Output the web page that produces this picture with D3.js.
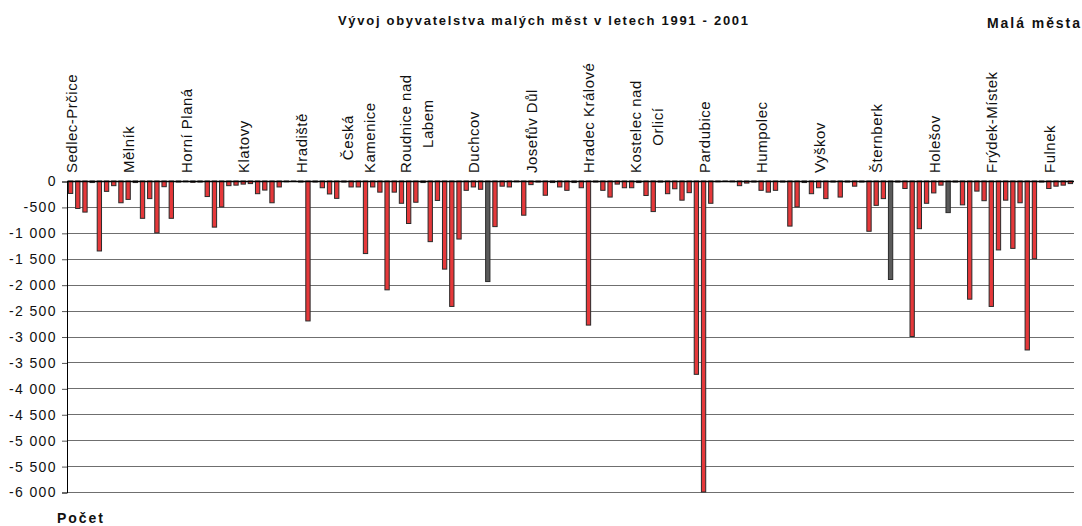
<!DOCTYPE html>
<html>
<head>
<meta charset="utf-8">
<script src="https://cdn.jsdelivr.net/npm/d3@7"></script>
<style>
    body { margin: 0; background: #fff; }
    text { font-family: "Liberation Sans", Arial, sans-serif; fill: #111; }
</style>
</head>
<body>
<div id="chart"></div>
<script>
const WIDTH = 1082;
const HEIGHT = 526;
const PLOT_LEFT = 67;
const PLOT_RIGHT = 1074;
const PLOT_TOP = 181;
const PLOT_BOTTOM = 492;
const LABEL_EVERY = 8;

// labelled towns (every 8th category is labelled on the axis)
var townLabels = [
    ["Sedlec-Prčice"], ["Mělník"], ["Horní Planá"], ["Klatovy"], ["Hradiště"],
    ["Česká", "Kamenice"], ["Roudnice nad", "Labem"], ["Duchcov"], ["Josefův Důl"],
    ["Hradec Králové"], ["Kostelec nad", "Orlicí"], ["Pardubice"], ["Humpolec"],
    ["Vyškov"], ["Šternberk"], ["Holešov"], ["Frýdek-Místek"], ["Fulnek"]
];

// change of population 1991 - 2001, one value per town
var popChange = [
    -240, -530, -600, -30, -1350, -200, -90, -420, -355, -30,
    -720, -340, -1000, -110, -720, -20, -15, -25, -20, -300,
    -890, -500, -90, -80, -60, -50, -245, -175, -420, -115,
    -15, -10, -20, -2700, -20, -130, -250, -335, -20, -115,
    -115, -1400, -115, -215, -2100, -215, -430, -820, -410, -30,
    -1170, -375, -1700, -2420, -1120, -180, -115, -160, -1940, -880,
    -100, -115, -15, -660, -70, -20, -275, -30, -115, -180,
    -30, -130, -2780, -20, -180, -310, -60, -130, -130, -30,
    -280, -590, -20, -245, -150, -370, -225, -3730, -6000, -430,
    -15, -10, -15, -90, -40, -20, -180, -215, -180, -20,
    -870, -500, -30, -245, -130, -340, -20, -310, -20, -100,
    -20, -970, -470, -340, -1900, -20, -145, -3000, -920, -430,
    -230, -80, -610, -20, -460, -2280, -195, -380, -2420, -1330,
    -370, -1300, -420, -3260, -1500, -20, -145, -100, -80, -50
];

// bars that came out dark grey in the original
var darkBars = [58, 114, 122];

var yTicks = d3.range(0, -6001, -500);

var svg = d3.select("#chart")
    .append("svg")
    .attr("width", WIDTH)
    .attr("height", HEIGHT);

var x_scale = d3.scaleBand()
    .domain(d3.range(popChange.length))
    .range([PLOT_LEFT, PLOT_RIGHT])
    .paddingInner(0.4)
    .paddingOuter(0.2);

var y_scale = d3.scaleLinear()
    .domain([0, -6000])
    .range([PLOT_TOP, PLOT_BOTTOM]);

var czLocale = d3.formatLocale({ decimal: ",", thousands: " ", grouping: [3], currency: ["", ""], minus: "-" });
var fmt = czLocale.format(",d");

// grid lines
svg.append("g")
    .selectAll("line")
    .data(yTicks.slice(1))
    .enter()
    .append("line")
    .attr("x1", PLOT_LEFT)
    .attr("x2", PLOT_RIGHT)
    .attr("y1", (d) => Math.round(y_scale(d)) + 0.5)
    .attr("y2", (d) => Math.round(y_scale(d)) + 0.5)
    .attr("stroke", "#6f6f6f")
    .attr("stroke-width", 1);

// y axis
var yAxis = d3.axisLeft(y_scale)
    .tickValues(yTicks)
    .tickFormat(fmt)
    .tickSize(5)
    .tickPadding(5);

var yG = svg.append("g")
    .attr("transform", "translate(" + PLOT_LEFT + ",0.5)")
    .call(yAxis);
yG.select(".domain").attr("stroke", "#000");
yG.selectAll(".tick line").attr("stroke", "#555");
yG.selectAll(".tick text")
    .style("font-family", "'Liberation Sans', Arial, sans-serif")
    .style("font-size", "14px")
    .style("letter-spacing", "1.4px")
    .attr("fill", "#111");

// bars
svg.append("g")
    .selectAll("rect")
    .data(popChange)
    .enter()
    .append("rect")
    .attr("x", (d, i) => x_scale(i))
    .attr("y", y_scale(0))
    .attr("width", x_scale.bandwidth())
    .attr("height", (d) => y_scale(d) - y_scale(0))
    .attr("fill", (d, i) => darkBars.indexOf(i) >= 0 ? "#5a5a5a" : "#e5383a")
    .attr("stroke", "#2a2a2a")
    .attr("stroke-width", 1);

// zero line
svg.append("line")
    .attr("x1", PLOT_LEFT)
    .attr("x2", PLOT_RIGHT)
    .attr("y1", Math.round(y_scale(0)) + 0.5)
    .attr("y2", Math.round(y_scale(0)) + 0.5)
    .attr("stroke", "#000")
    .attr("stroke-width", 1.5);

// rotated town labels
var labelBase = 173;
townLabels.forEach(function(lines, k) {
    var cx = x_scale(k * LABEL_EVERY) + x_scale.bandwidth() / 2;
    var g = svg.append("g");
    var texts = lines.map(function(line) {
        return g.append("text")
            .attr("text-anchor", "middle")
            .style("font-size", "15px")
            .style("letter-spacing", "0.5px")
            .text(line);
    });
    var maxLen = d3.max(texts, (t) => t.node().getComputedTextLength());
    var yc = labelBase - maxLen / 2;
    texts.forEach(function(t, j) {
        var bx = cx + 6 + (j - (lines.length - 1) / 2) * 22;
        t.attr("transform", "translate(" + bx + "," + yc + ") rotate(-90)");
    });
});

// titles
svg.append("text")
    .attr("x", 338)
    .attr("y", 25)
    .attr("textLength", 410)
    .attr("lengthAdjust", "spacing")
    .style("font-size", "13px")
    .style("font-weight", "bold")
    .text("Vývoj obyvatelstva malých měst v letech 1991 - 2001");

svg.append("text")
    .attr("x", 987)
    .attr("y", 28)
    .attr("textLength", 93)
    .attr("lengthAdjust", "spacing")
    .style("font-size", "14px")
    .style("font-weight", "bold")
    .text("Malá města");

svg.append("text")
    .attr("x", 57)
    .attr("y", 523)
    .attr("textLength", 46)
    .attr("lengthAdjust", "spacing")
    .style("font-size", "14px")
    .style("font-weight", "bold")
    .text("Počet");
</script>
</body>
</html>
